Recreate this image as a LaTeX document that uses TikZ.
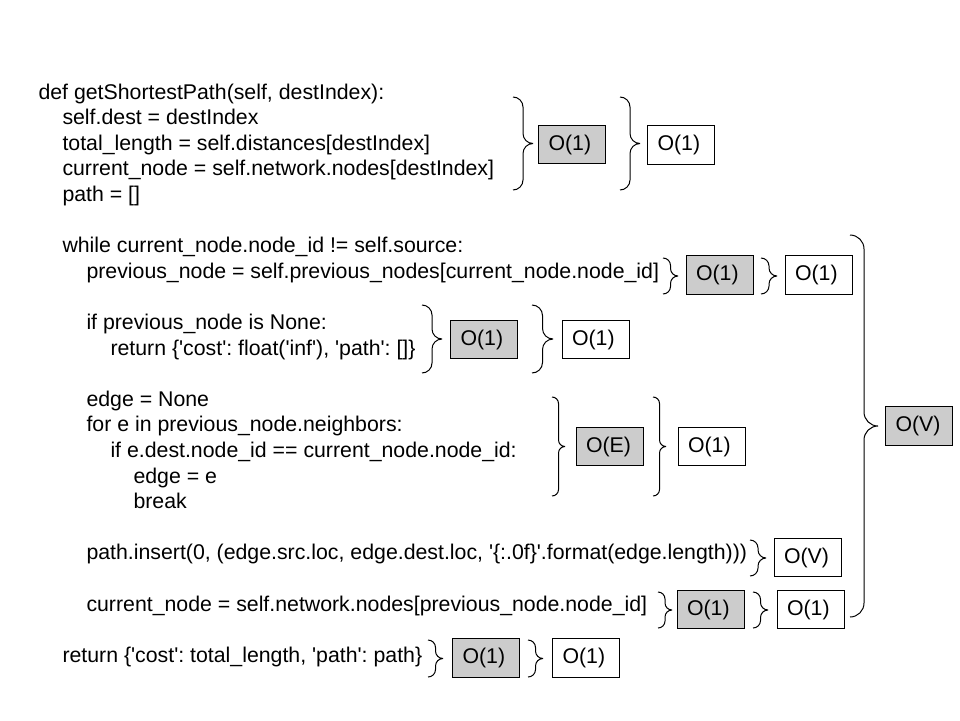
\documentclass[tikz,border=0pt]{standalone}
\usepackage{fontspec}
\setmainfont{Liberation Sans}
\newcommand{\sq}{\textquotesingle}
\frenchspacing

\begin{document}
\begin{tikzpicture}[x=1pt, y=-1pt, line width=1pt,
    code/.style={anchor=base west, inner sep=0pt, font=\fontsize{21.3}{25.6}\selectfont},
    cost/.style={shape=rectangle, draw, fill=gray!40, text width=47pt, inner xsep=10pt, minimum height=38.5pt, align=left, font=\fontsize{21.3}{25.6}\selectfont},
    total/.style={cost, fill=white},
    pics/curly/.style 2 args={code={
        \draw[rounded corners=#1pt/2] (0,0) -| (#1/2,#2/2) -- (#1,#2/2) (#1,#2/2) -- (#1/2,#2/2) |- (0,#2);
    }}]
    \useasboundingbox (0,0) rectangle (960,720);
    % the code
    \node[code] at (38, 99) (def) {def getShortestPath(self, destIndex):};
    \node[code] at (62, 124.6) (dest) {self.dest = destIndex};
    \node[code] at (62, 150.2) (total) {total\_length = self.distances[destIndex]};
    \node[code] at (62, 175.8) (current) {current\_node = self.network.nodes[destIndex]};
    \node[code] at (62, 201.4) (path) {path = []};
    \node[code] at (62, 252.6) (while) {while current\_node.node\_id != self.source:};
    \node[code] at (86, 278.2) (previous) {previous\_node = self.previous\_nodes[current\_node.node\_id]};
    \node[code] at (86, 329.4) (ifnone) {if previous\_node is None:};
    \node[code] at (110, 355) (retinf) {return \{\sq cost\sq: float(\sq inf\sq), \sq path\sq: []\}};
    \node[code] at (86, 406.2) (edge) {edge = None};
    \node[code] at (86, 431.8) (for) {for e in previous\_node.neighbors:};
    \node[code] at (110, 457.4) (ifdest) {if e.dest.node\_id == current\_node.node\_id:};
    \node[code] at (133, 483) (edgee) {edge = e};
    \node[code] at (133, 508.6) (break) {break};
    \node[code] at (86, 559.8) (insert) {path.insert(0, (edge.src.loc, edge.dest.loc, \sq\{:.0f\}\sq.format(edge.length)))};
    \node[code] at (86, 611) (next) {current\_node = self.network.nodes[previous\_node.node\_id]};
    \node[code] at (62, 662.2) (return) {return \{\sq cost\sq: total\_length, \sq path\sq: path\}};
    % braces
    \pic at (513, 97) {curly={20}{93}};
    \pic at (620, 97) {curly={20}{93}};
    \pic at (663, 258) {curly={15}{36}};
    \pic at (761, 258) {curly={16}{36}};
    \pic at (850, 235) {curly={28}{382}};
    \pic at (422, 305) {curly={20}{68}};
    \pic at (532, 305) {curly={21}{68}};
    \pic at (552, 397) {curly={13}{99}};
    \pic at (653, 397) {curly={13}{99}};
    \pic at (750, 540) {curly={16}{36}};
    \pic at (658, 592) {curly={14}{36}};
    \pic at (753, 592) {curly={15}{36}};
    \pic at (428, 640) {curly={15}{37}};
    \pic at (528, 640) {curly={15}{37}};
    % costs
    \node[cost] at (572, 144.5) (init) {O(1)};
    \node[total] at (681, 145) (inits) {O(1)};
    \node[cost] at (719.5, 275) (prev) {O(1)};
    \node[total] at (818.5, 275) (prevs) {O(1)};
    \node[cost] at (484, 339.5) (check) {O(1)};
    \node[total] at (595.5, 339.5) (checks) {O(1)};
    \node[cost] at (609.5, 446.5) (search) {O(E)};
    \node[total] at (711.5, 446.5) (searchs) {O(1)};
    \node[total] at (807.5, 557.5) (ins) {O(V)};
    \node[cost] at (710.5, 609.5) (step) {O(1)};
    \node[total] at (810.5, 609.5) (steps) {O(1)};
    \node[cost] at (919, 426) (loop) {O(V)};
    \node[cost] at (486, 658) (ret) {O(1)};
    \node[total] at (586, 658) (rets) {O(1)};
\end{tikzpicture}
\end{document}
